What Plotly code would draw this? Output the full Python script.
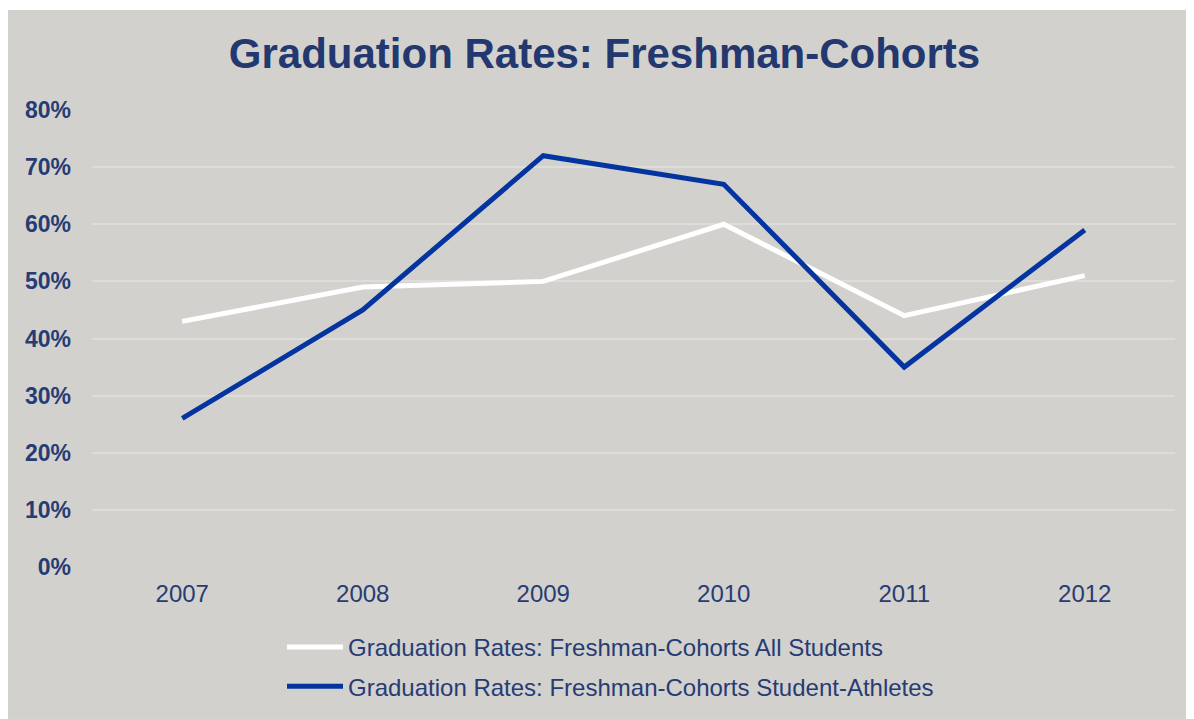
import plotly.graph_objects as go

years = ["2007", "2008", "2009", "2010", "2011", "2012"]
all_students = [43, 49, 50, 60, 44, 51]
student_athletes = [26, 45, 72, 67, 35, 59]
y_ticks = [0, 10, 20, 30, 40, 50, 60, 70, 80]
y_tick_labels = [f"{v}%" for v in y_ticks]

BG = "#D3D1CD"
NAVY = "#263C74"
W, H = 1186, 711
L, R, T, B = 84, 1167, 102, 559

fig = go.Figure()
fig.add_trace(go.Scatter(
    x=years, y=all_students, mode="lines",
    name="Graduation Rates: Freshman-Cohorts All Students",
    legendgroup="a",
    line=dict(color="#FFFFFF", width=5),
))
fig.add_trace(go.Scatter(
    x=years, y=student_athletes, mode="lines",
    name="Graduation Rates: Freshman-Cohorts Student-Athletes",
    legendgroup="b",
    line=dict(color="#0434A0", width=5),
))

pw, ph = R - L, B - T
# thin white strip at the very top
fig.add_shape(type="rect", xref="paper", yref="paper", layer="below",
              x0=(-5 - L) / pw, x1=(W + 5 - L) / pw,
              y0=(B - 2) / ph, y1=(B + 5) / ph,
              fillcolor="#FFFFFF", line=dict(width=0))

fig.update_layout(
    width=W, height=H,
    margin=dict(l=L, r=W - R, t=T, b=H - B, pad=0, autoexpand=False),
    paper_bgcolor=BG,
    plot_bgcolor=BG,
    font=dict(family="Liberation Sans, Arial, sans-serif", color=NAVY),
    title=dict(text="<b>Graduation Rates: Freshman-Cohorts</b>",
               x=596.5 / W, xanchor="center",
               y=1 - 45 / H, yanchor="middle",
               font=dict(size=42, color="#22386F")),
    showlegend=True,
    legend=dict(orientation="v", x=(274 - L) / pw, xanchor="left",
                y=(B - 617) / ph, yanchor="top",
                traceorder="grouped", tracegroupgap=5,
                bgcolor="rgba(0,0,0,0)", font=dict(size=24, color=NAVY),
                itemwidth=56),
    xaxis=dict(type="category", range=[-0.5, 5.5], showgrid=False,
               zeroline=False, showline=False, ticks="",
               tickfont=dict(size=24, color=NAVY), ticklabelstandoff=10),
    yaxis=dict(range=[0, 80], tickvals=y_ticks, ticktext=y_tick_labels,
               showgrid=True, gridcolor="#DFDDD9", gridwidth=1.5,
               zeroline=False, showline=False, ticks="",
               tickfont=dict(size=23, color=NAVY, weight="bold"),
               ticklabelstandoff=20),
)

fig.write_html("out.html")
